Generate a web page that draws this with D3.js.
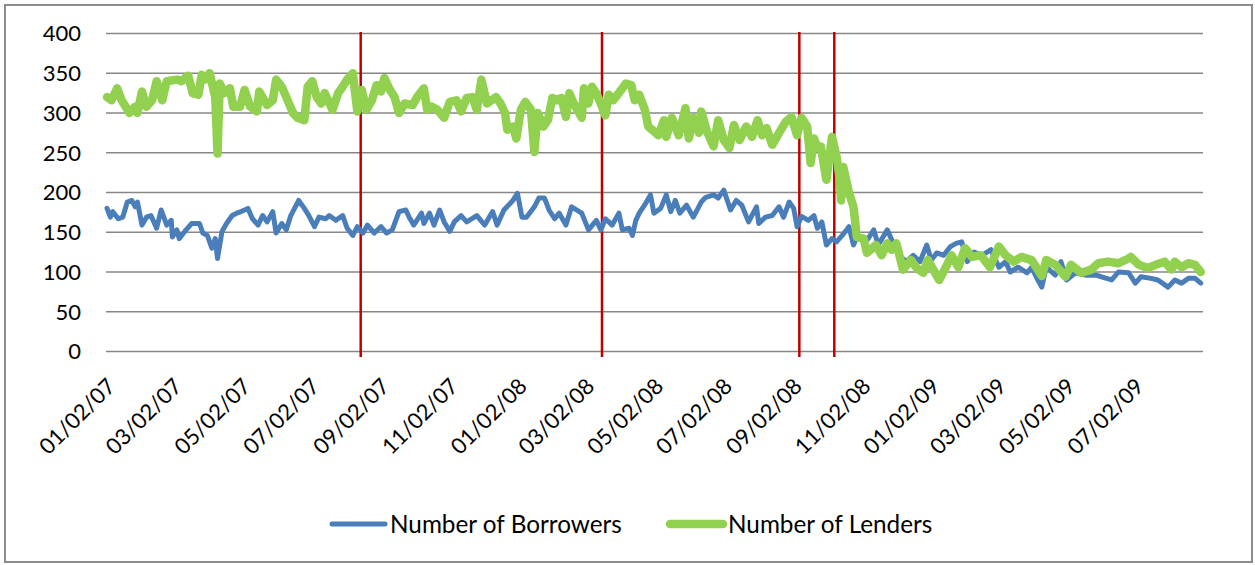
<!DOCTYPE html>
<html>
<head>
<meta charset="utf-8">
<script src="https://cdn.jsdelivr.net/npm/d3@7"></script>
<style>
  body { margin: 0; background: #fff; }
  svg { display: block; font-family: Lato, "Open Sans", sans-serif; }
</style>
</head>
<body>
<script>
const borrowers = [
  ["2007-01-02",180],["2007-01-05",169],["2007-01-07",176],["2007-01-12",167],["2007-01-16",169],["2007-01-20",188],["2007-01-24",190],["2007-01-27",182],["2007-01-29",188],
  ["2007-02-02",159],["2007-02-06",169],["2007-02-10",171],["2007-02-15",155],["2007-02-19",178],["2007-02-24",159],["2007-02-28",165],
  ["2007-03-01",144],["2007-03-05",153],["2007-03-07",142],["2007-03-12",151],["2007-03-18",161],["2007-03-25",161],["2007-03-28",149],
  ["2007-04-01",146],["2007-04-05",130],["2007-04-08",142],["2007-04-10",117],["2007-04-14",151],["2007-04-18",161],["2007-04-23",171],["2007-04-27",174],
  ["2007-05-01",176],["2007-05-07",180],["2007-05-11",167],["2007-05-16",159],["2007-05-20",171],["2007-05-24",163],["2007-05-29",176],
  ["2007-06-01",149],["2007-06-06",161],["2007-06-10",153],["2007-06-14",171],["2007-06-21",190],["2007-06-26",180],["2007-06-30",171],
  ["2007-07-05",157],["2007-07-09",169],["2007-07-15",167],["2007-07-18",171],["2007-07-24",165],["2007-07-30",171],
  ["2007-08-03",155],["2007-08-08",146],["2007-08-12",157],["2007-08-17",149],["2007-08-21",159],["2007-08-27",149],
  ["2007-09-02",157],["2007-09-07",149],["2007-09-12",153],["2007-09-18",176],["2007-09-24",178],["2007-09-27",169],
  ["2007-10-01",159],["2007-10-08",174],["2007-10-10",161],["2007-10-15",174],["2007-10-19",159],["2007-10-24",178],["2007-10-28",163],
  ["2007-11-02",151],["2007-11-06",163],["2007-11-12",171],["2007-11-17",163],["2007-11-26",171],
  ["2007-12-03",159],["2007-12-10",176],["2007-12-14",159],["2007-12-20",178],["2007-12-28",190],
  ["2008-01-01",199],["2008-01-05",169],["2008-01-09",169],["2008-01-16",182],["2008-01-20",193],["2008-01-25",193],["2008-01-29",178],
  ["2008-02-03",167],["2008-02-07",174],["2008-02-13",159],["2008-02-18",182],["2008-02-27",174],
  ["2008-03-04",153],["2008-03-11",165],["2008-03-15",153],["2008-03-19",167],["2008-03-25",159],["2008-03-31",174],
  ["2008-04-03",153],["2008-04-09",155],["2008-04-12",146],["2008-04-15",165],["2008-04-18",174],["2008-04-24",187],["2008-04-28",197],
  ["2008-05-01",174],["2008-05-07",180],["2008-05-12",197],["2008-05-16",176],["2008-05-20",190],["2008-05-24",174],["2008-05-30",184],
  ["2008-06-05",169],["2008-06-12",188],["2008-06-16",194],["2008-06-23",197],["2008-06-27",193],
  ["2008-07-02",203],["2008-07-08",178],["2008-07-13",190],["2008-07-18",184],["2008-07-24",163],["2008-07-31",182],
  ["2008-08-02",161],["2008-08-08",169],["2008-08-14",171],["2008-08-20",182],["2008-08-24",169],["2008-08-29",188],
  ["2008-09-02",180],["2008-09-05",157],["2008-09-09",170],["2008-09-15",165],["2008-09-20",171],["2008-09-23",155],["2008-09-27",163],
  ["2008-10-01",134],["2008-10-06",142],["2008-10-10",138],["2008-10-15",146],["2008-10-21",157],["2008-10-25",134],["2008-10-29",146],
  ["2008-11-03",138],["2008-11-07",142],["2008-11-12",153],["2008-11-16",134],["2008-11-24",153],["2008-11-30",134],
  ["2008-12-06",119],["2008-12-11",113],["2008-12-17",121],["2008-12-23",113],["2008-12-29",134],
  ["2009-01-02",115],["2009-01-07",124],["2009-01-13",121],["2009-01-19",132],["2009-01-24",136],["2009-01-29",138],
  ["2009-02-03",113],["2009-02-09",125],["2009-02-16",121],["2009-02-24",128],
  ["2009-03-03",106],["2009-03-09",113],["2009-03-13",100],["2009-03-20",106],["2009-03-28",99],
  ["2009-04-01",106],["2009-04-05",94],["2009-04-10",81],["2009-04-14",106],["2009-04-22",96],["2009-04-27",113],
  ["2009-05-02",90],["2009-05-10",99],["2009-05-19",96],["2009-05-28",96],
  ["2009-06-02",94],["2009-06-11",90],["2009-06-17",100],["2009-06-26",99],
  ["2009-07-02",86],["2009-07-07",94],["2009-07-16",92],["2009-07-22",90],["2009-07-31",81],
  ["2009-08-06",90],["2009-08-12",86],["2009-08-18",92],["2009-08-24",92],["2009-08-29",86]
];

const lenders = [
  ["2007-01-02",320],["2007-01-06",316],["2007-01-11",331],["2007-01-15",316],["2007-01-22",300],["2007-01-27",308],["2007-01-29",300],
  ["2007-02-02",327],["2007-02-06",308],["2007-02-11",316],["2007-02-15",340],["2007-02-20",316],["2007-02-24",340],
  ["2007-03-05",342],["2007-03-09",340],["2007-03-15",347],["2007-03-19",325],["2007-03-24",323],["2007-03-27",348],["2007-03-30",342],
  ["2007-04-03",350],["2007-04-08",320],["2007-04-10",249],["2007-04-12",337],["2007-04-16",325],["2007-04-21",331],["2007-04-24",308],["2007-04-30",308],
  ["2007-05-04",329],["2007-05-09",308],["2007-05-15",302],["2007-05-17",327],["2007-05-24",310],["2007-05-29",316],
  ["2007-06-01",342],["2007-06-06",333],["2007-06-10",320],["2007-06-16",300],["2007-06-20",294],["2007-06-26",291],["2007-06-29",333],
  ["2007-07-03",340],["2007-07-07",320],["2007-07-11",312],["2007-07-14",325],["2007-07-21",304],["2007-07-26",325],["2007-07-30",333],
  ["2007-08-03",342],["2007-08-08",350],["2007-08-12",302],["2007-08-16",329],["2007-08-20",304],["2007-08-25",316],["2007-08-29",335],
  ["2007-09-02",327],["2007-09-05",344],["2007-09-10",329],["2007-09-14",320],["2007-09-18",300],["2007-09-23",312],["2007-09-30",310],
  ["2007-10-04",320],["2007-10-10",331],["2007-10-13",304],["2007-10-17",308],["2007-10-22",304],["2007-10-28",294],
  ["2007-11-02",314],["2007-11-08",316],["2007-11-12",302],["2007-11-17",319],["2007-11-22",320],["2007-11-26",304],["2007-11-30",342],
  ["2007-12-05",312],["2007-12-13",320],["2007-12-17",312],["2007-12-21",300],["2007-12-23",279],["2007-12-28",283],["2007-12-31",268],
  ["2008-01-04",304],["2008-01-08",314],["2008-01-13",304],["2008-01-16",251],["2008-01-19",300],["2008-01-24",283],["2008-01-28",291],
  ["2008-02-01",319],["2008-02-05",316],["2008-02-09",319],["2008-02-13",295],["2008-02-16",325],["2008-02-20",312],["2008-02-27",294],["2008-02-29",331],
  ["2008-03-04",312],["2008-03-07",333],["2008-03-11",325],["2008-03-16",308],["2008-03-19",297],["2008-03-22",323],["2008-03-26",316],
  ["2008-04-02",329],["2008-04-06",337],["2008-04-11",335],["2008-04-14",316],["2008-04-18",323],["2008-04-23",304],["2008-04-26",283],
  ["2008-05-01",277],["2008-05-05",272],["2008-05-10",291],["2008-05-12",270],["2008-05-17",294],["2008-05-23",272],["2008-05-29",306],
  ["2008-06-01",268],["2008-06-05",294],["2008-06-10",275],["2008-06-12",302],["2008-06-17",277],["2008-06-23",258],["2008-06-27",291],
  ["2008-07-02",266],["2008-07-07",256],["2008-07-11",285],["2008-07-16",266],["2008-07-22",283],["2008-07-27",270],
  ["2008-08-01",291],["2008-08-05",272],["2008-08-09",281],["2008-08-14",260],["2008-08-20",275],["2008-08-26",289],["2008-08-31",295],
  ["2008-09-05",272],["2008-09-09",294],["2008-09-14",283],["2008-09-17",237],["2008-09-20",268],["2008-09-23",256],["2008-09-26",258],
  ["2008-10-01",216],["2008-10-06",270],["2008-10-10",245],["2008-10-13",216],["2008-10-14",190],["2008-10-16",232],["2008-10-21",200],["2008-10-25",182],["2008-10-28",144],
  ["2008-11-03",142],["2008-11-06",124],["2008-11-14",134],["2008-11-19",121],["2008-11-24",136],["2008-11-28",128],
  ["2008-12-02",136],["2008-12-08",103],["2008-12-15",115],["2008-12-20",105],["2008-12-26",99],["2008-12-30",115],
  ["2009-01-09",90],["2009-01-15",106],["2009-01-20",121],["2009-01-26",106],
  ["2009-02-01",130],["2009-02-07",119],["2009-02-15",121],["2009-02-23",106],
  ["2009-03-03",132],["2009-03-09",121],["2009-03-16",113],["2009-03-23",119],
  ["2009-04-01",115],["2009-04-10",95],["2009-04-14",115],["2009-04-22",109],
  ["2009-05-01",94],["2009-05-06",109],["2009-05-15",99],["2009-05-24",103],["2009-05-30",111],
  ["2009-06-08",113],["2009-06-17",111],["2009-06-26",117],["2009-06-28",119],
  ["2009-07-05",109],["2009-07-13",105],["2009-07-20",109],["2009-07-28",113],
  ["2009-08-03",103],["2009-08-06",113],["2009-08-12",106],["2009-08-18",111],["2009-08-24",109],["2009-08-29",100]
];

// crisis markers (red vertical lines)
const eventDates = ["2007-08-15", "2008-03-16", "2008-09-07", "2008-10-08"];

const tickDates = ["2007-01-02","2007-03-02","2007-05-02","2007-07-02","2007-09-02","2007-11-02",
  "2008-01-02","2008-03-02","2008-05-02","2008-07-02","2008-09-02","2008-11-02",
  "2009-01-02","2009-03-02","2009-05-02","2009-07-02"];
const yTicks = [0, 50, 100, 150, 200, 250, 300, 350, 400];

const seriesNames = ["Number of Borrowers", "Number of Lenders"];
const seriesColors = ["#4A7EBB", "#92D050"];

const W = 1255, H = 565;
const parse = d3.timeParse('%Y-%m-%d');
const fmt = d3.timeFormat('%m/%d/%y');

const svg = d3.select('body').append('svg').
attr('width', W).
attr('height', H);

svg.append('rect').
attr('x', 5).attr('y', 5).
attr('width', 1247).attr('height', 557).
attr('fill', '#fff').
attr('stroke', '#8c8c8c').
attr('stroke-width', 2);

const x = d3.scaleTime().
domain([parse('2007-01-02'), parse('2009-08-31')]).
range([107, 1203]);

const y = d3.scaleLinear().
domain([0, 400]).
range([351.5, 33.5]);

// gridlines
svg.append('g').
selectAll('line').
data(yTicks).
enter().
append('line').
attr('x1', 106).
attr('x2', 1203).
attr('y1', d => y(d)).
attr('y2', d => y(d)).
attr('stroke', '#878787').
attr('stroke-width', 1.6);

// y labels
svg.append('g').
selectAll('text').
data(yTicks).
enter().
append('text').
attr('x', 81).
attr('y', d => y(d)).
attr('dy', '0.36em').
attr('text-anchor', 'end').
attr('font-size', 22).
attr('fill', '#000').
text(d => d);

// x labels, rotated
svg.append('g').
selectAll('text').
data(tickDates.map(parse)).
enter().
append('text').
attr('transform', d => 'translate(' + (x(d) - 2) + ',376) rotate(-45)').
attr('dy', '0.75em').
attr('text-anchor', 'end').
attr('font-size', 22).
attr('fill', '#000').
text(d => fmt(d));

// event lines
svg.append('g').
selectAll('line').
data(eventDates.map(parse)).
enter().
append('line').
attr('x1', d => x(d)).
attr('x2', d => x(d)).
attr('y1', 32).
attr('y2', 357).
attr('stroke', '#C00000').
attr('stroke-width', 2.5);

const line = d3.line().
x(d => x(parse(d[0]))).
y(d => y(d[1]));

svg.append('path').
datum(borrowers).
attr('d', line).
attr('fill', 'none').
attr('stroke', seriesColors[0]).
attr('stroke-width', 5).
attr('stroke-linejoin', 'round').
attr('stroke-linecap', 'round');

svg.append('path').
datum(lenders).
attr('d', line).
attr('fill', 'none').
attr('stroke', seriesColors[1]).
attr('stroke-width', 8.5).
attr('stroke-linejoin', 'round').
attr('stroke-linecap', 'round');

// legend
const legendX = [330, 668];
const legendW = [5, 8.5];
const legend = svg.append('g').
selectAll('g').
data(seriesNames).
enter().
append('g').
attr('transform', (d, i) => 'translate(' + legendX[i] + ',524)');

legend.append('line').
attr('x1', 2).attr('x2', 55).
attr('stroke', (d, i) => seriesColors[i]).
attr('stroke-width', (d, i) => legendW[i]).
attr('stroke-linecap', 'round');

legend.append('text').
attr('x', 60).
attr('dy', '0.36em').
attr('font-size', 24.3).
attr('fill', '#000').
text(d => d);
</script>
</body>
</html>
